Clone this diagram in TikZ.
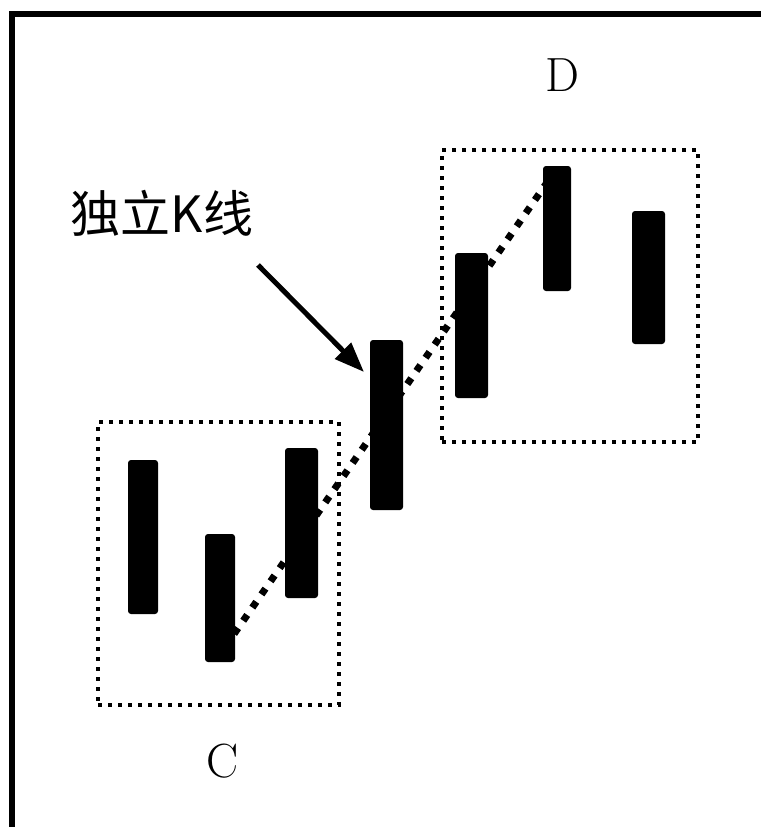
\documentclass[tikz,border=0pt]{standalone}
\usepackage{fontspec}
\newfontfamily\cjk{Noto Sans CJK SC}
\usetikzlibrary{arrows.meta}

\begin{document}
\begin{tikzpicture}[
		x=1pt, y=-1pt,
		candle/.style={rectangle, fill=black, rounded corners=3pt, inner sep=0pt},
		groupbox/.style={rectangle, draw=black, line width=4pt, dash pattern=on 4pt off 6pt, inner sep=0pt},
		trend/.style={line width=7pt, dash pattern=on 7pt off 9pt},
		pointer/.style={line width=5pt, -{Triangle[length=30pt,width=22pt]}},
		letter/.style={font=\fontsize{48}{50}\selectfont}
		]
		\useasboundingbox (0,0) rectangle (761,827);
		
		% Outer frame (runs off the right and bottom edges)
		\draw[line width=6pt] (12,827) |- (761,13.5);
		
		% Group boxes
		\node[groupbox, minimum width=241pt, minimum height=283pt] (boxC) at (218.5,563.5) {};
		\node[groupbox, minimum width=256pt, minimum height=292pt] (boxD) at (570,296) {};
		
		% Trend line behind the candles
		\coordinate (t0) at (225,647);
		\coordinate (t1) at (555,171);
		\draw[trend] (t0) -- (t1);
		
		% Candles of group C
		\node[candle, minimum width=30pt, minimum height=154pt] (c1) at (143,537) {};
		\node[candle, minimum width=30pt, minimum height=128pt] (c2) at (220,598) {};
		\node[candle, minimum width=33pt, minimum height=150pt] (c3) at (301.5,523) {};
		
		% Independent candle
		\node[candle, minimum width=33pt, minimum height=170pt] (k) at (386.5,425) {};
		
		% Candles of group D
		\node[candle, minimum width=33pt, minimum height=145pt] (d1) at (471.5,325.5) {};
		\node[candle, minimum width=28pt, minimum height=125pt] (d2) at (557,228.5) {};
		\node[candle, minimum width=33pt, minimum height=133pt] (d3) at (648.5,277.5) {};
		
		% Labels
		\node[font=\cjk\fontsize{50}{54}\selectfont] (title) at (162,213) {独立K线};
		\node[letter] (labC) at (223,761) {C};
		\node[letter] (labD) at (562,75) {D};
		
		% Pointer to the independent candle
		\coordinate (p0) at (258,265);
		\coordinate (p1) at (364,372);
		\draw[pointer] (p0) -- (p1);
		
	\end{tikzpicture}
\end{document}
